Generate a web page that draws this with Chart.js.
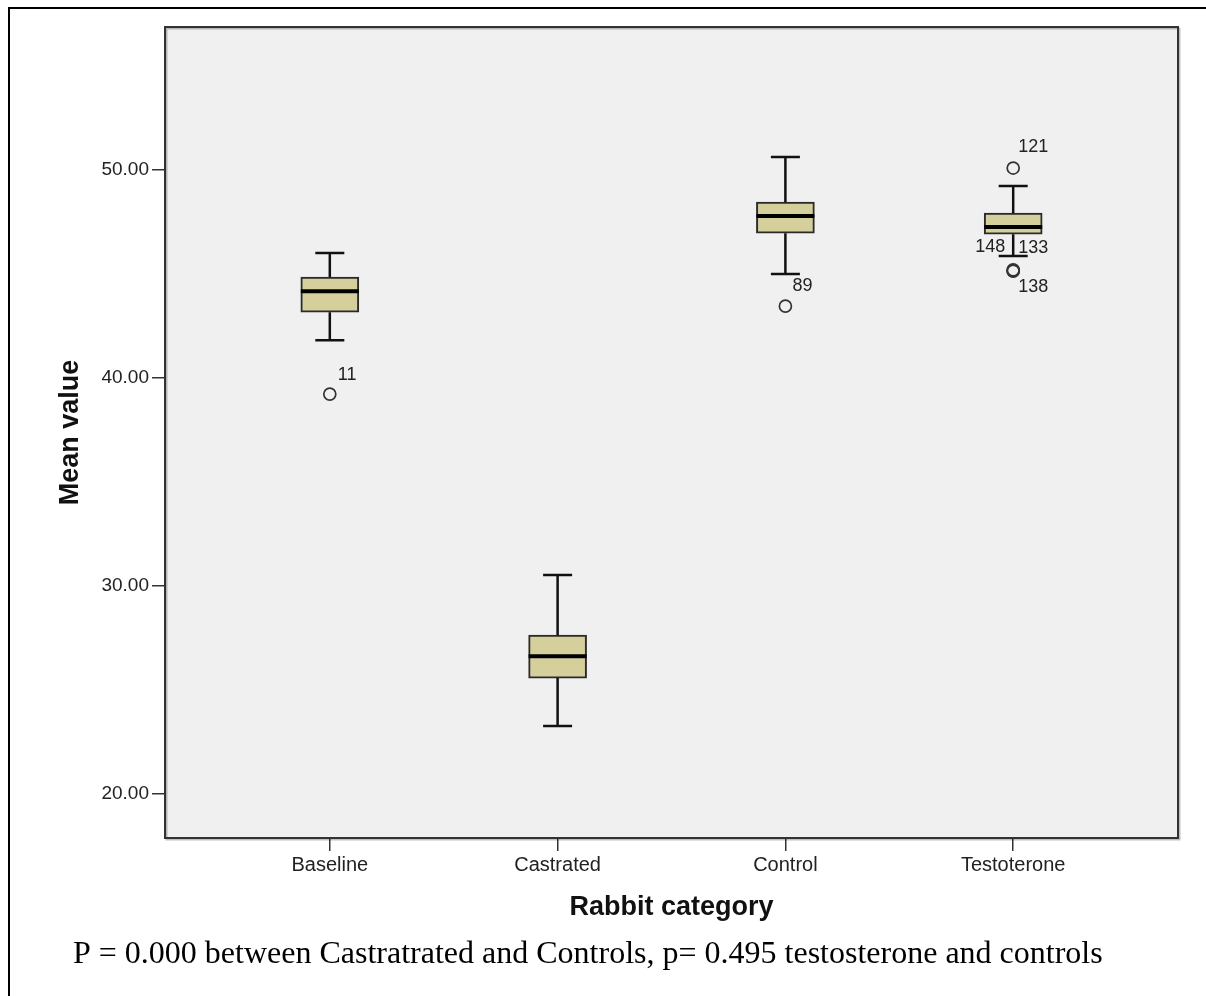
<!DOCTYPE html>
<html>
<head>
<meta charset="utf-8">
<script src="https://cdn.jsdelivr.net/npm/chart.js@4.4.1/dist/chart.umd.min.js"></script>
<style>
html,body{margin:0;padding:0;background:#fff;}
canvas{display:block;}
</style>
</head>
<body>
<canvas id="c" width="1206" height="996"></canvas>
<script>
// ---- data ----
const categories = ['Baseline', 'Castrated', 'Control', 'Testoterone'];
const whiskerLow  = [41.80, 23.25, 44.98, 45.85];
const q1          = [43.15, 25.56, 46.95, 46.90];
const median      = [44.16, 26.61, 47.77, 47.24];
const q3          = [44.84, 27.62, 48.44, 47.91];
const whiskerHigh = [45.99, 30.51, 50.61, 49.21];
const outlierCat  = [0, 2, 3, 3, 3, 3];
const outlierVal  = [39.21, 43.44, 50.08, 45.18, 45.15, 45.12];
const outlierId   = ['11', '89', '121', '148', '133', '138'];
const yTicks      = [20, 30, 40, 50];
const yTitle = 'Mean value';
const xTitle = 'Rabbit category';
const footnote = 'P = 0.000 between Castratrated and Controls, p= 0.495 testosterone and controls';

// ---- style (label placement relative to each outlier point) ----
const labelPlace = [
  {dx: 8, dy: -19, align: 'left'},
  {dx: 7, dy: -20, align: 'left'},
  {dx: 5, dy: -21, align: 'left'},
  {dx: -8, dy: -23, align: 'right'},
  {dx: 5, dy: -23, align: 'left'},
  {dx: 5, dy: 16, align: 'left'}
];

const boxData = categories.map((c, i) => ({x: i, y: [q1[i], q3[i]]}));
const outData = outlierCat.map((c, i) => ({x: c, y: outlierVal[i]}));

const boxPlugin = {
  id: 'boxExtras',
  beforeDraw(chart) {
    const {ctx, chartArea: a} = chart;
    ctx.save();
    ctx.fillStyle = '#f0f0f0';
    ctx.fillRect(a.left, a.top, a.right - a.left, a.bottom - a.top);
    ctx.restore();
  },
  afterDatasetsDraw(chart) {
    const {ctx, scales: {x, y}} = chart;
    ctx.save();
    ctx.lineCap = 'butt';
    categories.forEach((c, i) => {
      const px = x.getPixelForValue(i);
      const cap = 14.5;
      ctx.lineWidth = 2.5;
      ctx.strokeStyle = '#111';
      ctx.beginPath();
      ctx.moveTo(px, y.getPixelForValue(q3[i]));
      ctx.lineTo(px, y.getPixelForValue(whiskerHigh[i]));
      ctx.moveTo(px, y.getPixelForValue(q1[i]));
      ctx.lineTo(px, y.getPixelForValue(whiskerLow[i]));
      ctx.moveTo(px - cap, y.getPixelForValue(whiskerHigh[i]));
      ctx.lineTo(px + cap, y.getPixelForValue(whiskerHigh[i]));
      ctx.moveTo(px - cap, y.getPixelForValue(whiskerLow[i]));
      ctx.lineTo(px + cap, y.getPixelForValue(whiskerLow[i]));
      ctx.stroke();
      const bar = chart.getDatasetMeta(0).data[i];
      const half = bar.width / 2;
      ctx.lineWidth = 4;
      ctx.strokeStyle = '#000';
      ctx.beginPath();
      ctx.moveTo(px - half, y.getPixelForValue(median[i]));
      ctx.lineTo(px + half, y.getPixelForValue(median[i]));
      ctx.stroke();
    });
    ctx.fillStyle = '#222';
    ctx.font = '18px "Liberation Sans", Arial, sans-serif';
    ctx.textBaseline = 'middle';
    outlierId.forEach((id, i) => {
      const px = x.getPixelForValue(outlierCat[i]);
      const py = y.getPixelForValue(outlierVal[i]);
      const p = labelPlace[i];
      ctx.textAlign = p.align;
      ctx.fillText(id, px + p.dx, py + p.dy);
    });
    ctx.restore();
  },
  afterDraw(chart) {
    const {ctx, chartArea: a} = chart;
    ctx.save();
    ctx.strokeStyle = 'rgba(0,0,0,0.25)';
    ctx.lineWidth = 2;
    ctx.strokeRect(a.left + 1.5, a.top + 1.5, a.right - a.left, a.bottom - a.top);
    ctx.strokeStyle = '#333';
    ctx.lineWidth = 2;
    ctx.strokeRect(a.left, a.top, a.right - a.left, a.bottom - a.top);
    ctx.strokeStyle = '#000';
    ctx.lineWidth = 2;
    ctx.beginPath();
    ctx.moveTo(9, 996);
    ctx.lineTo(9, 8);
    ctx.lineTo(1206, 8);
    ctx.stroke();
    ctx.fillStyle = '#000';
    ctx.font = '32px "Liberation Serif", "Times New Roman", serif';
    ctx.textAlign = 'left';
    ctx.textBaseline = 'alphabetic';
    ctx.fillText(footnote, 73, 963);
    ctx.restore();
  }
};

new Chart(document.getElementById('c'), {
  type: 'bar',
  data: {
    datasets: [
      {
        type: 'bar',
        data: boxData,
        backgroundColor: '#d4cf9b',
        borderColor: '#2a2a2a',
        borderWidth: 2,
        borderSkipped: false,
        barThickness: 58
      },
      {
        type: 'scatter',
        data: outData,
        pointRadius: 6,
        pointHoverRadius: 6,
        pointBackgroundColor: 'rgba(0,0,0,0)',
        pointBorderColor: '#333',
        pointBorderWidth: 1.7
      }
    ]
  },
  options: {
    responsive: false,
    animation: false,
    devicePixelRatio: 1,
    layout: {padding: {left: 0, top: 27, right: 28, bottom: 0}},
    plugins: {legend: {display: false}, tooltip: {enabled: false}},
    scales: {
      x: {
        type: 'linear',
        offset: false,
        min: -0.7235,
        max: 3.7235,
        afterBuildTicks: s => { s.ticks = categories.map((c, i) => ({value: i})); },
        afterFit: s => { s.height = 158; },
        ticks: {
          callback: v => categories[v],
          color: '#222',
          font: {family: '"Liberation Sans", Arial, sans-serif', size: 20},
          padding: 2,
          maxRotation: 0,
          autoSkip: false
        },
        grid: {display: true, offset: false, drawOnChartArea: false, drawTicks: true, tickLength: 13, color: '#333', lineWidth: 1.5},
        border: {display: false},
        title: {
          display: true,
          text: xTitle,
          color: '#111',
          font: {family: '"Liberation Sans", Arial, sans-serif', size: 27, weight: 'bold'},
          padding: {top: 0, bottom: 72}
        }
      },
      y: {
        type: 'linear',
        min: 17.87,
        max: 56.86,
        afterBuildTicks: s => { s.ticks = yTicks.map(v => ({value: v})); },
        afterFit: s => { s.width = 165; },
        ticks: {
          callback: v => Number(v).toFixed(2),
          color: '#222',
          font: {family: '"Liberation Sans", Arial, sans-serif', size: 19},
          padding: 3
        },
        grid: {display: true, drawOnChartArea: false, drawTicks: true, tickLength: 13, color: '#333', lineWidth: 1.5},
        border: {display: false},
        title: {
          display: true,
          text: yTitle,
          color: '#111',
          font: {family: '"Liberation Sans", Arial, sans-serif', size: 27, weight: 'bold'},
          padding: {top: 54, bottom: 0}
        }
      }
    }
  },
  plugins: [boxPlugin]
});
</script>
</body>
</html>
